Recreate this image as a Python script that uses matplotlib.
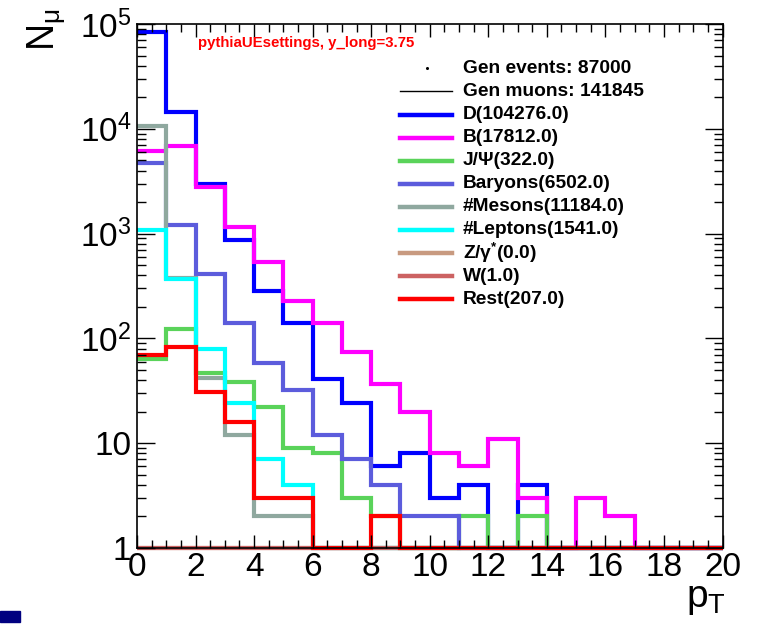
import numpy as np
import matplotlib.pyplot as plt
from matplotlib.lines import Line2D
from matplotlib.patches import Rectangle
from matplotlib.ticker import MultipleLocator, LogLocator, FuncFormatter, NullFormatter

plt.rcParams['font.family'] = ['Liberation Sans', 'DejaVu Sans']
plt.rcParams['mathtext.fontset'] = 'custom'
plt.rcParams['mathtext.rm'] = 'Liberation Sans'
plt.rcParams['mathtext.it'] = 'Liberation Sans'
plt.rcParams['mathtext.bf'] = 'Liberation Sans:bold'
plt.rcParams['mathtext.default'] = 'regular'

# muon counts per 1 GeV pT bin, 0..20
edges = np.arange(0, 21)
D = [84000, 14600, 2990, 877, 284, 139, 41, 24, 6, 8, 3, 4, 0, 4, 0, 0, 0, 0, 0, 0]
B = [6080, 6790, 2780, 1156, 530, 228, 140, 74, 37, 20, 8, 6, 11, 3, 0, 3, 2, 0, 0, 0]
JPsi = [64, 124, 47, 38, 22, 9, 8, 3, 2, 0, 0, 2, 0, 2, 0, 0, 0, 0, 0, 0]
Baryons = [4675, 1218, 416, 139, 58, 32, 12, 7, 4, 2, 2, 0, 0, 0, 0, 0, 0, 0, 0, 0]
Mesons = [10690, 378, 42, 12, 2, 2, 0, 0, 0, 0, 0, 0, 0, 0, 0, 0, 0, 0, 0, 0]
Leptons = [1075, 365, 80, 24, 7, 4, 0, 0, 0, 0, 0, 0, 0, 0, 0, 0, 0, 0, 0, 0]
Zgamma = [0] * 20
W = [0, 0, 0, 1, 0, 0, 0, 0, 0, 0, 0, 0, 0, 0, 0, 0, 0, 0, 0, 0]
Rest = [69, 83, 31, 16, 3, 3, 0, 0, 2, 0, 0, 0, 0, 0, 0, 0, 0, 0, 0, 0]

series = [D, B, JPsi, Baryons, Mesons, Leptons, Zgamma, W, Rest]
labels = ['D(104276.0)', 'B(17812.0)', 'J/Ψ(322.0)', 'Baryons(6502.0)',
          '#Mesons(11184.0)', '#Leptons(1541.0)', r'Z/$\gamma^{*}$(0.0)',
          'W(1.0)', 'Rest(207.0)']
colors = ['#0000ff', '#ff00ff', '#5ad35a', '#5c5cdc', '#8fa89f', '#00ffff',
          '#c89a80', '#cc6262', '#ff0000']

W_PX, H_PX = 757, 627
fig = plt.figure(figsize=(W_PX / 100, H_PX / 100), dpi=100)
ax = fig.add_axes([137 / W_PX, 1 - 548 / H_PX, (722.5 - 137) / W_PX, (548 - 24) / H_PX])

for vals, c in zip(series, colors):
    v = np.clip(np.array(vals, dtype=float), 1, None)
    ax.stairs(v, edges, baseline=None, color=c, lw=3, clip_on=False)

ax.set_yscale('log')
ax.set_xlim(0, 20)
ax.set_ylim(1, 1e5)

ax.xaxis.set_major_locator(MultipleLocator(2))
ax.xaxis.set_minor_locator(MultipleLocator(0.5))
ax.yaxis.set_major_locator(LogLocator(base=10))
ax.yaxis.set_minor_locator(LogLocator(base=10, subs=range(2, 10)))
ax.yaxis.set_minor_formatter(NullFormatter())


def yfmt(v, pos):
    k = int(round(np.log10(v)))
    if k == 0:
        return '1'
    if k == 1:
        return '10'
    return r'$10^{%d}$' % k


ax.yaxis.set_major_formatter(FuncFormatter(yfmt))
ax.tick_params(which='both', direction='in', top=True, right=True, width=1,
               labelsize=24)
ax.tick_params(axis='x', which='major', length=9.5, pad=3)
ax.tick_params(axis='x', which='minor', length=5.5)
ax.tick_params(axis='y', which='major', length=13, pad=4)
ax.tick_params(axis='y', which='minor', length=6.5)
for s in ax.spines.values():
    s.set_linewidth(1.2)


def fx(px):
    return px / W_PX


def fy(py):
    return 1 - py / H_PX


# title
fig.text(fx(198), fy(47), 'pythiaUEsettings, y_long=3.75', color='red',
         fontweight='bold', fontsize=10.8, va='baseline')

# legend, drawn by hand in ROOT style
row0, dy = 68.3, 23.1
leg_fs = 13.8
fig.add_artist(Line2D([fx(426.5)], [fy(row0)], marker='o', markersize=1.2,
                      color='black', lw=0))
fig.text(fx(463), fy(row0), 'Gen events: 87000', fontweight='bold',
         fontsize=leg_fs, va='center')
fig.add_artist(Line2D([fx(400), fx(452)], [fy(row0 + dy)] * 2, color='black', lw=1))
fig.text(fx(463), fy(row0 + dy), 'Gen muons: 141845', fontweight='bold',
         fontsize=leg_fs, va='center')
for i, (lab, c) in enumerate(zip(labels, colors)):
    y = row0 + (i + 2) * dy
    fig.add_artist(Line2D([fx(400), fx(452)], [fy(y)] * 2, color=c, lw=3.2))
    fig.text(fx(463), fy(y), lab, fontweight='bold', fontsize=leg_fs, va='center')

# axis titles
fig.text(fx(47), fy(8), r'N$_{\mu}$', rotation=90, ha='center', va='top', fontsize=27)
fig.text(fx(686), fy(607), r'p$_{T}$', fontsize=28, ha='left', va='baseline')

fig.add_artist(Rectangle((0, fy(622)), fx(20), 11 / H_PX, color='#000080',
                         transform=fig.transFigure))

fig.savefig('out.png', dpi=100)
